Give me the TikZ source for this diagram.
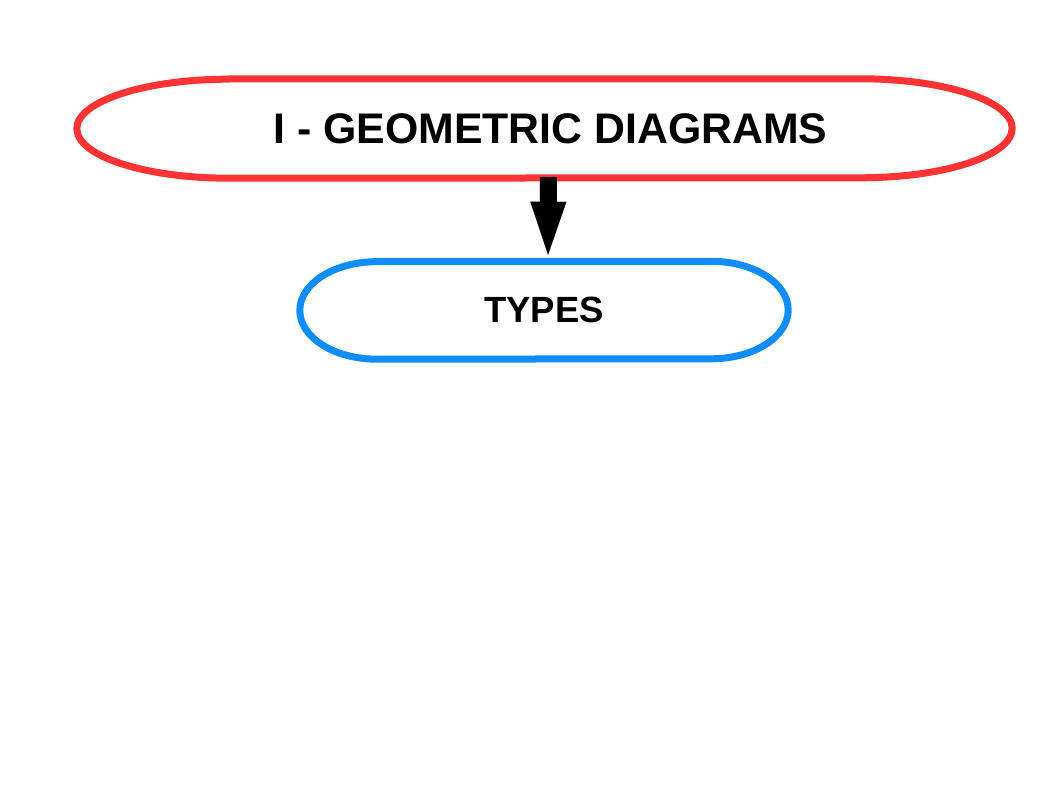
\documentclass[tikz,border=0pt]{standalone}
\usepackage{fontspec}
\setmainfont{Liberation Sans}
\usetikzlibrary{arrows.meta}
\definecolor{redline}{RGB}{255,51,51}
\definecolor{blueline}{RGB}{15,141,255}
\tikzset{
  shapebox/.style={draw=none, inner sep=0pt, minimum width=#1},
  titletext/.style={font=\bfseries\fontsize{42.8}{50}\selectfont, text=black, inner sep=0pt},
  typetext/.style={font=\bfseries\fontsize{36.5}{44}\selectfont, text=black, inner sep=0pt},
  bigarrow/.style={line width=17pt, black, -{Triangle[length=53pt 0 0, width=36pt 0 0, line width=0.01pt 0 0]}}
}
\begin{document}
\begin{tikzpicture}[x=1pt, y=1pt]
\useasboundingbox[fill=white] (0,0) rectangle (1058,794);
% red title shape
\node[shapebox=935pt, minimum height=99pt] (red) at (544.5,665.5) {};
\draw[redline, line width=7pt, line join=round]
  ([xshift=152pt]red.north west) -- ([xshift=-152pt]red.north east)
  arc[start angle=90, end angle=-90, x radius=152pt, y radius=49.5pt]
  -- ([xshift=152pt]red.south west)
  arc[start angle=270, end angle=90, x radius=152pt, y radius=49.5pt] -- cycle;
\node[titletext] (redtext) at (550.5,665.5) {I - GEOMETRIC DIAGRAMS};
% blue types shape
\node[shapebox=488pt, minimum height=97.5pt] (blue) at (544,483.75) {};
\draw[blueline, line width=7pt, line join=round]
  ([xshift=77pt]blue.north west) -- ([xshift=-77pt]blue.north east)
  arc[start angle=90, end angle=-90, x radius=77pt, y radius=48.75pt]
  -- ([xshift=77pt]blue.south west)
  arc[start angle=270, end angle=90, x radius=77pt, y radius=48.75pt] -- cycle;
\node[typetext] (bluetext) at (544,484) {TYPES};
% connector
\draw[bigarrow, shorten >=6.5pt] ([xshift=4pt,yshift=1pt]red.south) -- ([xshift=4pt]blue.north);
\end{tikzpicture}
\end{document}
